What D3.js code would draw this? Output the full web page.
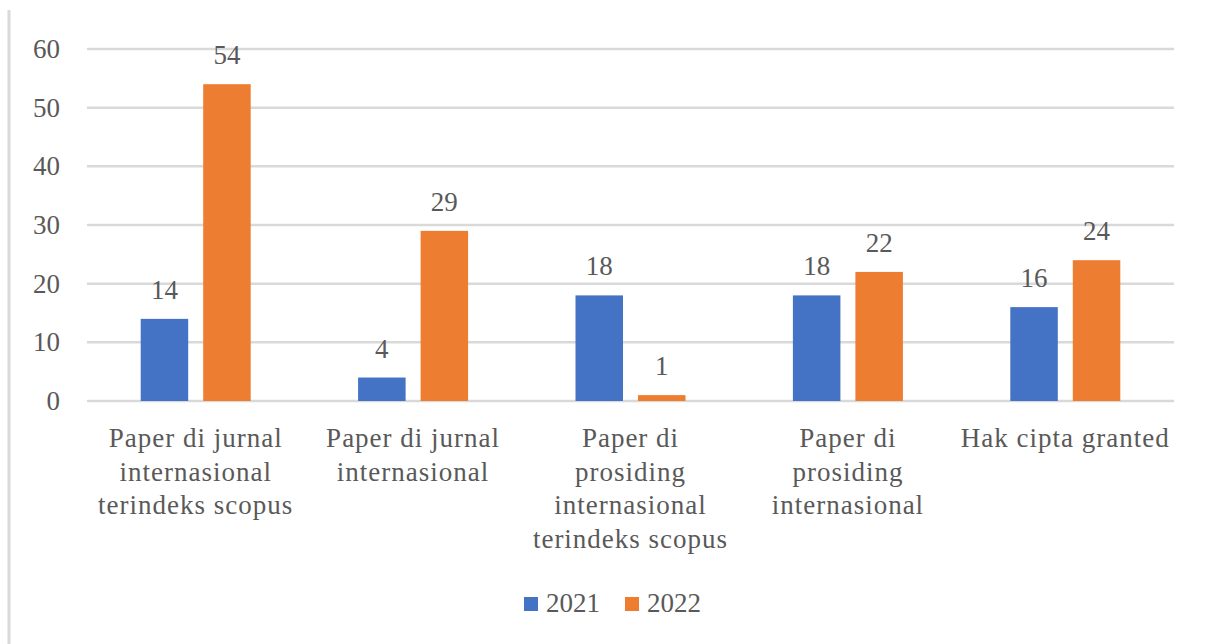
<!DOCTYPE html>
<html>
<head>
<meta charset="utf-8">
<script src="https://cdn.jsdelivr.net/npm/d3@7"></script>
<style>
  html, body { margin: 0; padding: 0; background: #fff; }
  svg { display: block; }
</style>
</head>
<body>
<svg id="chart" width="1205" height="644"></svg>
<script>
// data
const categories = [
  ["Paper di jurnal", "internasional", "terindeks scopus"],
  ["Paper di jurnal", "internasional"],
  ["Paper di", "prosiding", "internasional", "terindeks scopus"],
  ["Paper di", "prosiding", "internasional"],
  ["Hak cipta granted"]
];
const seriesNames = ["2021", "2022"];
const values2021 = [14, 4, 18, 18, 16];
const values2022 = [54, 29, 1, 22, 24];
const yTicks = [0, 10, 20, 30, 40, 50, 60];
const colors = ["#4472C4", "#ED7D31"];

const FONT = "'Liberation Serif', 'Times New Roman', Times, serif";
const TEXT_COLOR = "#595959";

const svg = d3.select("#chart");
const W = 1205, H = 644;
const plotLeft = 87, plotRight = 1174, plotTop = 49, plotBottom = 401;

const catKeys = categories.map((c, i) => i);
const x0 = d3.scaleBand().domain(catKeys).range([plotLeft, plotRight]).padding(0);
const groupW = 110;
const x1 = d3.scaleBand().domain(seriesNames).range([0, groupW]).paddingInner(0.24);
const y = d3.scaleLinear().domain([0, 60]).range([plotBottom, plotTop]);

// left border line
svg.append("line")
  .attr("x1", 9).attr("x2", 9).attr("y1", 10).attr("y2", H)
  .attr("stroke", "#d9d9d9").attr("stroke-width", 3);

// gridlines
svg.append("g").selectAll("line")
  .data(yTicks)
  .join("line")
  .attr("x1", plotLeft).attr("x2", plotRight)
  .attr("y1", d => y(d)).attr("y2", d => y(d))
  .attr("stroke", "#d9d9d9").attr("stroke-width", 2.5);

const labels = svg.append("g")
  .attr("font-family", FONT)
  .attr("fill", TEXT_COLOR)
  .attr("font-size", 27);

// y axis labels
labels.append("g").selectAll("text")
  .data(yTicks)
  .join("text")
  .attr("x", 60)
  .attr("y", d => y(d) + 9)
  .attr("text-anchor", "end")
  .text(d => d);

// bars
const rows = catKeys.map(i => [values2021[i], values2022[i]]);
const groups = svg.append("g").selectAll("g")
  .data(rows)
  .join("g")
  .attr("transform", (d, i) => `translate(${x0(i) + (x0.bandwidth() - groupW) / 2},0)`);

groups.selectAll("rect")
  .data(d => d.map((v, j) => ({ key: seriesNames[j], v, j })))
  .join("rect")
  .attr("x", d => x1(d.key))
  .attr("y", d => y(d.v))
  .attr("width", x1.bandwidth())
  .attr("height", d => y(0) - y(d.v))
  .attr("fill", d => colors[d.j]);

groups.selectAll("text.val")
  .data(d => d.map((v, j) => ({ key: seriesNames[j], v, j })))
  .join("text")
  .attr("class", "val")
  .attr("font-family", FONT)
  .attr("fill", TEXT_COLOR)
  .attr("font-size", 27)
  .attr("x", d => x1(d.key) + x1.bandwidth() / 2)
  .attr("y", d => y(d.v) - 20)
  .attr("text-anchor", "middle")
  .text(d => d.v);

// category labels
const catLabels = labels.append("g").selectAll("text")
  .data(categories)
  .join("text")
  .attr("text-anchor", "middle")
  .attr("letter-spacing", 1)
  .attr("transform", (d, i) => `translate(${x0(i) + x0.bandwidth() / 2},447)`);

catLabels.selectAll("tspan")
  .data(d => d)
  .join("tspan")
  .attr("x", 0)
  .attr("y", (d, i) => i * 33.5)
  .text(d => d);

// legend
const legendX = [524, 625];
const legend = labels.append("g").selectAll("g")
  .data(seriesNames)
  .join("g")
  .attr("transform", (d, i) => `translate(${legendX[i]},597)`);
legend.append("rect")
  .attr("width", 14).attr("height", 14)
  .attr("fill", (d, i) => colors[i]);
legend.append("text")
  .attr("x", 22).attr("y", 15)
  .text(d => d);
</script>
</body>
</html>
